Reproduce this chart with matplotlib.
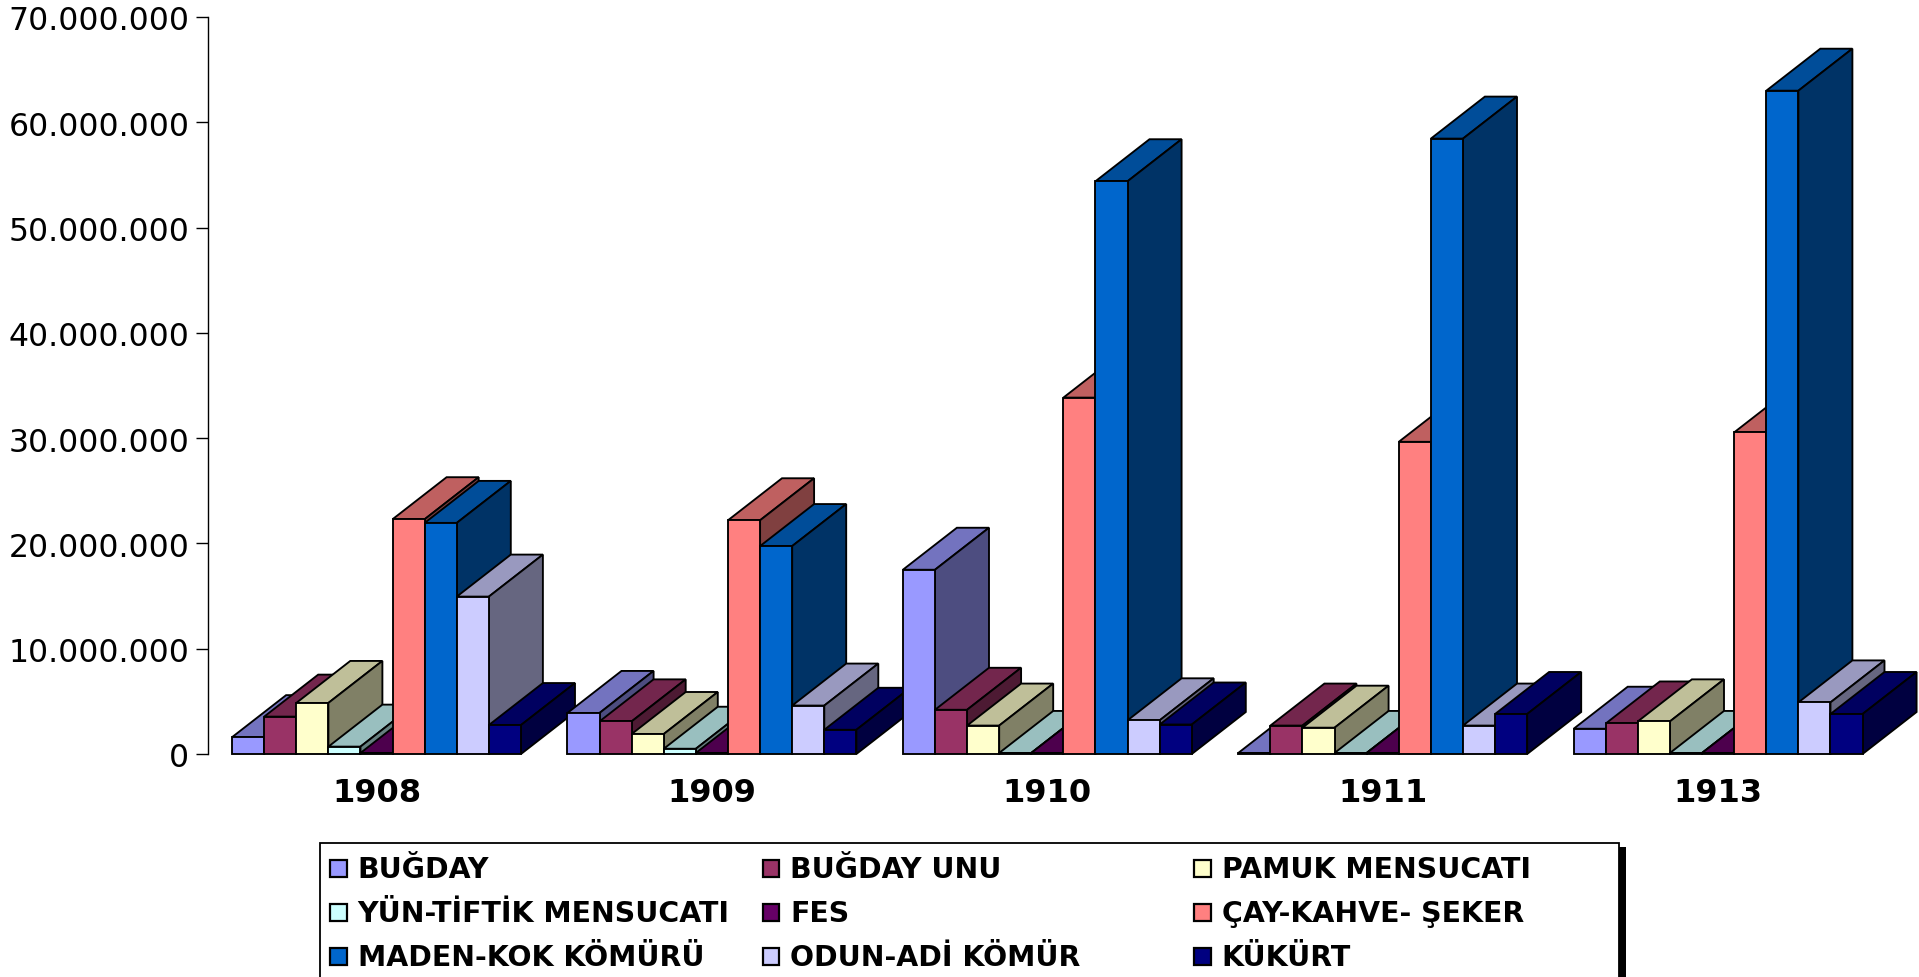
import matplotlib
matplotlib.use("Agg")
import matplotlib.pyplot as plt
from matplotlib.patches import Polygon, Rectangle
from matplotlib.colors import to_rgb
from matplotlib.transforms import ScaledTranslation

years = ["1908", "1909", "1910", "1911", "1913"]
y_ticks = [0, 10_000_000, 20_000_000, 30_000_000, 40_000_000, 50_000_000, 60_000_000, 70_000_000]
y_tick_labels = ["0", "10.000.000", "20.000.000", "30.000.000", "40.000.000", "50.000.000", "60.000.000", "70.000.000"]

bugday = [1.6e6, 3.9e6, 17.5e6, 0.1e6, 2.4e6]
bugday_unu = [3.55e6, 3.1e6, 4.2e6, 2.7e6, 2.9e6]
pamuk = [4.85e6, 1.9e6, 2.7e6, 2.5e6, 3.1e6]
yun = [0.7e6, 0.5e6, 0.1e6, 0.1e6, 0.1e6]
fes = [0.1e6, 0.1e6, 0.1e6, 0.1e6, 0.1e6]
cay = [22.3e6, 22.2e6, 33.85e6, 29.65e6, 30.55e6]
maden = [21.95e6, 19.75e6, 54.4e6, 58.45e6, 63.0e6]
odun = [14.95e6, 4.6e6, 3.2e6, 2.7e6, 4.9e6]
kukurt = [2.75e6, 2.3e6, 2.8e6, 3.8e6, 3.8e6]

series_names = ["BUĞDAY", "BUĞDAY UNU", "PAMUK MENSUCATI", "YÜN-TİFTİK MENSUCATI", "FES",
                "ÇAY-KAHVE- ŞEKER", "MADEN-KOK KÖMÜRÜ", "ODUN-ADİ KÖMÜR", "KÜKÜRT"]
series_values = [bugday, bugday_unu, pamuk, yun, fes, cay, maden, odun, kukurt]
series_colors = ["#9999FF", "#993366", "#FFFFCC", "#CCFFFF", "#660066",
                 "#FF8080", "#0066CC", "#CCCCFF", "#000080"]

W, H = 1919, 977
fig = plt.figure(figsize=(W / 100, H / 100), dpi=100, facecolor="white")
AX_L, AX_W = 207.5, 1677.0
ax = fig.add_axes([AX_L / W, 1 - 754 / H, AX_W / W, (754 - 17) / H])
x_shift = 0.004
ax.set_xlim(-x_shift, 5 - x_shift)
ax.set_ylim(0, 70_000_000)
ax.set_facecolor("none")

px_x = 5 / AX_W
px_y = 70_000_000 / (754 - 17)
bar_w = 32.1 * px_x
depth_x = 54 * px_x
depth_y = 42 * px_y
LW = 1.35


def shade(color, f):
    return tuple(c * f for c in to_rgb(color))


z = 2
for g in range(len(years)):
    for s, (vals, col) in enumerate(zip(series_values, series_colors)):
        v = vals[g]
        x0 = g + 0.5 + (s - 4.5) * bar_w
        x1 = x0 + bar_w
        top = Polygon([(x0, v), (x1, v), (x1 + depth_x, v + depth_y), (x0 + depth_x, v + depth_y)],
                      closed=True, facecolor=shade(col, 0.75), edgecolor="black", lw=LW,
                      joinstyle="miter", clip_on=False, zorder=z)
        side = Polygon([(x1, 0), (x1 + depth_x, depth_y), (x1 + depth_x, v + depth_y), (x1, v)],
                       closed=True, facecolor=shade(col, 0.5), edgecolor="black", lw=LW,
                       joinstyle="miter", clip_on=False, zorder=z)
        ax.add_patch(top)
        ax.add_patch(side)
        ax.bar(x0, v, width=bar_w, align="edge", color=col, edgecolor="black", lw=LW,
               clip_on=False, zorder=z + 0.5)
        z += 1

for sp in ["top", "right", "bottom"]:
    ax.spines[sp].set_visible(False)
ax.spines["left"].set_linewidth(1.0)
ax.set_yticks(y_ticks)
ax.set_yticklabels(y_tick_labels, fontsize=22.7, family="DejaVu Sans")
ax.tick_params(axis="y", length=8.5, width=1.0, pad=4.5)
for lab in ax.get_yticklabels():
    lab.set_transform(lab.get_transform() + ScaledTranslation(0, -1.0 / 72, fig.dpi_scale_trans))
ax.set_xticks([g + 0.5 for g in range(len(years))])
ax.set_xticklabels(years, fontsize=23, fontweight="bold", family="DejaVu Sans")
ax.tick_params(axis="x", length=0, pad=17.2)

tf = fig.transFigure


def box(x, y, w, h, **kw):
    fig.add_artist(Rectangle((x / W, 1 - (y + h) / H), w / W, h / H, transform=tf, **kw))


box(326, 847, 1300, 200, facecolor="black", edgecolor="black", lw=0, zorder=5)
box(320, 843, 1299, 200, facecolor="white", edgecolor="black", lw=1.3, zorder=6)
col_x = [330, 762.5, 1194]
row_y = [868, 912, 956]
for i, (name, col) in enumerate(zip(series_names, series_colors)):
    cx, cy = col_x[i % 3], row_y[i // 3]
    box(cx, cy - 8, 16.5, 16.5, facecolor=col, edgecolor="black", lw=1.6, zorder=7)
    fig.text((cx + 27.5) / W, 1 - (cy + 10.5) / H, name, fontsize=20.4, fontweight="bold",
             family="DejaVu Sans", ha="left", va="baseline", zorder=7)

fig.savefig("out.png", dpi=100)
